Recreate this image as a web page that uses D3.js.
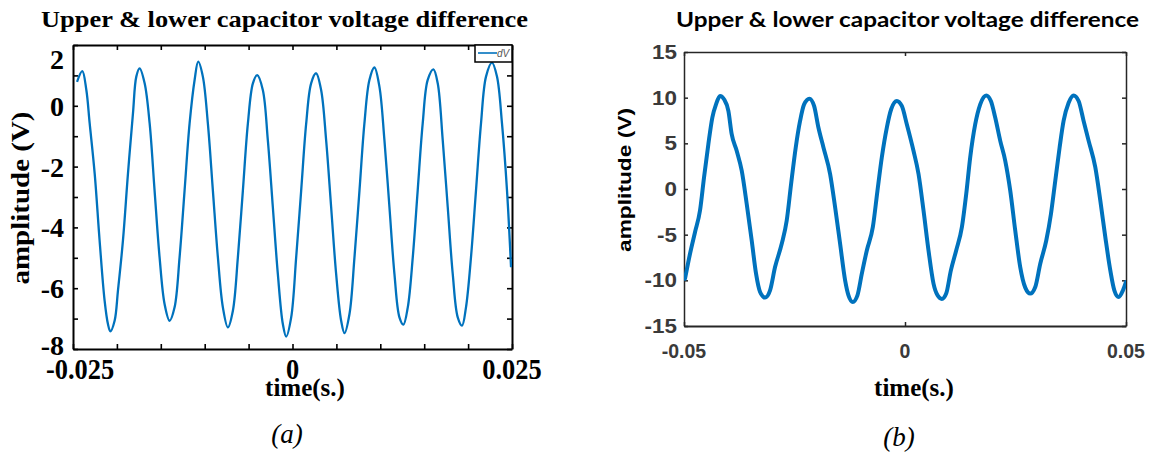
<!DOCTYPE html>
<html>
<head>
<meta charset="utf-8">
<script src="https://cdn.jsdelivr.net/npm/d3@7"></script>
<style>
  html, body { margin: 0; padding: 0; background: #fff; }
  svg { display: block; }
</style>
</head>
<body>
<svg id="chart" width="1153" height="455"></svg>
<script>
// ---- data -------------------------------------------------------------
// Panel (a): voltage difference between upper and lower capacitor (time in ms)
const timeA = [-24.54, -23.94, -23.48, -23.10, -22.53, -21.97, -21.40, -21.02, -20.75, -20.26,
  -19.88, -19.31, -18.74, -18.17, -17.79, -17.41, -16.84, -16.27, -15.71, -15.14,
  -14.57, -14.00, -13.43, -12.86, -12.29, -11.72, -11.15, -10.74, -10.21, -9.64,
  -9.07, -8.50, -7.93, -7.36, -6.79, -6.22, -5.65, -5.08, -4.51, -4.02,
  -3.38, -2.81, -2.24, -1.67, -1.10, -0.72, -0.15, 0.42, 0.99, 1.56,
  2.12, 2.69, 3.26, 3.83, 4.40, 4.97, 5.54, 5.92, 6.49, 7.06,
  7.63, 8.19, 8.76, 9.33, 9.90, 10.47, 11.04, 11.61, 12.18, 12.63,
  13.13, 13.70, 14.26, 14.83, 15.40, 16.05, 16.54, 17.11, 17.68, 18.25,
  18.82, 19.31, 19.76, 20.33, 20.90, 21.47, 22.04, 22.72, 23.29, 23.86,
  24.43, 24.89];
const voltA = [0.79, 1.14, 0.52, -0.58, -2.23, -4.43, -6.41, -7.18, -7.42, -7.07,
  -6.08, -4.43, -2.23, -0.25, 0.96, 1.23, 0.74, -0.58, -2.78, -4.98,
  -6.52, -7.07, -6.63, -4.98, -2.78, -0.58, 0.85, 1.45, 0.96, -0.58,
  -2.78, -4.98, -6.63, -7.29, -6.74, -4.98, -2.78, -0.58, 0.74, 1.01,
  0.52, -1.13, -3.33, -5.53, -7.18, -7.59, -6.96, -4.98, -2.78, -0.58,
  0.74, 1.07, 0.52, -1.13, -3.33, -5.53, -7.07, -7.48, -6.85, -4.98,
  -2.78, -0.58, 0.85, 1.26, 0.63, -1.13, -3.33, -5.53, -6.96, -7.20,
  -6.63, -4.98, -2.78, -0.58, 0.85, 1.20, 0.74, -1.13, -3.33, -5.53,
  -6.96, -7.23, -6.63, -4.98, -2.78, -0.58, 0.96, 1.42, 0.96, -0.58,
  -2.78, -5.31];

// Panel (b): voltage difference between upper and lower capacitor (time in ms)
const timeB = [-49.77, -48.64, -47.51, -46.38, -45.47, -44.49, -43.59, -42.75, -41.85, -40.94,
  -39.96, -39.21, -38.08, -36.94, -35.81, -34.68, -33.70, -32.79, -31.66, -30.53,
  -29.40, -27.89, -26.76, -25.77, -24.72, -23.74, -22.83, -21.62, -20.57, -19.59,
  -18.45, -16.94, -15.81, -14.68, -13.55, -12.79, -11.81, -10.76, -9.77, -8.64,
  -7.28, -6.23, -5.25, -4.11, -3.13, -1.85, -0.72, 0.41, 1.92, 3.06,
  4.19, 5.32, 6.45, 7.36, 8.34, 9.32, 10.38, 11.58, 12.87, 13.85,
  14.75, 15.89, 17.02, 18.38, 19.43, 20.41, 21.55, 22.68, 23.81, 24.94,
  26.07, 27.21, 28.34, 29.47, 30.60, 31.96, 33.02, 34.00, 34.98, 35.88,
  37.02, 38.15, 39.28, 40.41, 41.55, 43.06, 44.19, 45.32, 46.45, 47.36,
  48.34, 49.32, 50.00];
const voltB = [-9.82, -7.09, -4.73, -2.36, 1.27, 4.91, 7.82, 9.27, 10.18, 9.82,
  8.55, 6.00, 4.18, 2.00, -1.64, -5.64, -9.27, -11.27, -11.89, -11.09,
  -8.55, -6.00, -3.45, 0.55, 4.55, 7.45, 9.27, 9.89, 9.09, 6.73,
  4.55, 1.64, -2.00, -6.00, -10.00, -11.64, -12.36, -11.64, -9.27, -6.73,
  -4.18, -0.18, 3.45, 6.73, 8.73, 9.64, 9.09, 7.09, 4.18, 1.64,
  -2.36, -6.73, -10.36, -11.64, -12.04, -11.45, -8.91, -6.73, -4.18, -0.55,
  3.45, 7.09, 9.27, 10.25, 9.64, 7.82, 5.27, 3.09, -0.18, -4.55,
  -8.55, -10.80, -11.45, -10.73, -8.18, -5.64, -2.73, 0.91, 4.55, 7.45,
  9.45, 10.25, 9.64, 7.45, 5.27, 2.36, -1.27, -5.27, -8.91, -11.09,
  -11.82, -11.09, -10.18];

// Tick labels
const xTickLabelsA = [-0.025, 0, 0.025];
const yTickLabelsA = [2, 0, -2, -4, -6, -8];
const xTickLabelsB = [-0.05, 0, 0.05];
const yTickLabelsB = [15, 10, 5, 0, -5, -10, -15];

const titleText = "Upper & lower capacitor voltage difference";
const xTitle = "time(s.)";
const yTitle = "amplitude (V)";
const legendLabel = "dV";
const captions = ["(a)", "(b)"];

// ---- drawing ----------------------------------------------------------
const svg = d3.select("#chart");
const lineBlue = "#0072bd";
const serif = "'Liberation Serif', 'Times New Roman', serif";
const sans = "'Liberation Sans', Arial, sans-serif";

function fmt(v) {
  if (v === 0) return "0";
  return String(v);
}

// squeeze or widen a text horizontally by a factor of its natural width
function scaleWidth(sel, k) {
  sel.each(function () {
    const w = this.getComputedTextLength();
    d3.select(this).attr("textLength", w * k).attr("lengthAdjust", "spacingAndGlyphs");
  });
}

// ===== Panel (a) =====
(function panelA() {
  const L = 73, R = 512, T = 45, B = 349;
  const x = d3.scaleLinear().domain([-0.025, 0.025]).range([L, R]);
  const y = d3.scaleLinear().domain([-8, 2]).range([B, T]);
  const g = svg.append("g");

  g.append("clipPath").attr("id", "clipA")
    .append("rect").attr("x", L).attr("y", T).attr("width", R - L).attr("height", B - T);

  const xMinor = x.ticks(10);
  const yMinor = y.ticks(10);
  const tick = 5;

  const axes = [
    d3.axisBottom(x).tickValues(xMinor), [0, B],
    d3.axisTop(x).tickValues(xMinor), [0, T],
    d3.axisLeft(y).tickValues(yMinor), [L, 0],
    d3.axisRight(y).tickValues(yMinor), [R, 0]
  ];
  for (let i = 0; i < axes.length; i += 2) {
    const ax = axes[i].tickSizeInner(-tick).tickSizeOuter(0).tickFormat("");
    const a = g.append("g").attr("transform", `translate(${axes[i + 1][0]},${axes[i + 1][1]})`).call(ax);
    a.select(".domain").attr("stroke", "#000").attr("stroke-width", 2);
    a.selectAll(".tick line").attr("stroke", "#000").attr("stroke-width", 1.6);
  }

  // data line
  const line = d3.line()
    .x((d, i) => x(timeA[i] / 1000))
    .y((d) => y(d))
    .curve(d3.curveCatmullRom.alpha(0.5));
  g.append("path")
    .attr("clip-path", "url(#clipA)")
    .attr("d", line(voltA))
    .attr("fill", "none")
    .attr("stroke", lineBlue)
    .attr("stroke-width", 2.3)
    .attr("stroke-linejoin", "round");

  // legend
  const lg = g.append("g");
  lg.append("rect").attr("x", 475).attr("y", T).attr("width", R - 475).attr("height", 17)
    .attr("fill", "#fff").attr("stroke", "#000").attr("stroke-width", 1.5);
  lg.append("line").attr("x1", 478).attr("x2", 497).attr("y1", T + 8).attr("y2", T + 8)
    .attr("stroke", lineBlue).attr("stroke-width", 1.6);
  lg.append("text").attr("x", 497).attr("y", T + 12)
    .attr("font-family", sans).attr("font-style", "italic").attr("font-size", 10)
    .attr("fill", "#555").text(legendLabel);

  // tick labels
  g.selectAll(".ylab").data(yTickLabelsA).enter().append("text")
    .attr("x", 64)
    .attr("y", (d, i) => y(d) + (i === 0 ? 24 : (i === yTickLabelsA.length - 1 ? 6 : 10)))
    .attr("text-anchor", "end")
    .attr("font-family", serif).attr("font-weight", "bold").attr("font-size", 28)
    .attr("fill", "#000")
    .text(fmt);

  g.selectAll(".xlab").data(xTickLabelsA).enter().append("text")
    .attr("x", (d, i) => x(d) + (i === 0 ? 7 : 0))
    .attr("y", 379)
    .attr("text-anchor", "middle")
    .attr("font-family", serif).attr("font-weight", "bold").attr("font-size", 30)
    .attr("fill", "#000")
    .text(fmt)
    .call(scaleWidth, 0.88);

  // titles
  g.append("text").attr("x", 284.5).attr("y", 27).attr("text-anchor", "middle")
    .attr("font-family", serif).attr("font-weight", "bold").attr("font-size", 24)
    .attr("textLength", 487).attr("lengthAdjust", "spacingAndGlyphs")
    .text(titleText);

  g.append("text").attr("x", 305).attr("y", 396).attr("text-anchor", "middle")
    .attr("font-family", serif).attr("font-weight", "bold").attr("font-size", 25)
    .text(xTitle);

  g.append("text").attr("transform", "translate(29,198) rotate(-90)").attr("text-anchor", "middle")
    .attr("font-family", serif).attr("font-weight", "bold").attr("font-size", 26)
    .attr("textLength", 173).attr("lengthAdjust", "spacingAndGlyphs")
    .text(yTitle);

  g.append("text").attr("x", 287).attr("y", 443).attr("text-anchor", "middle")
    .attr("font-family", serif).attr("font-style", "italic").attr("font-size", 27)
    .text(captions[0]);
})();

// ===== Panel (b) =====
(function panelB() {
  const L = 684, R = 1126, T = 52, B = 326;
  const x = d3.scaleLinear().domain([-0.05, 0.05]).range([L, R]);
  const y = d3.scaleLinear().domain([-15, 15]).range([B, T]);
  const g = svg.append("g");
  const axisColor = "#262626";

  g.append("clipPath").attr("id", "clipB")
    .append("rect").attr("x", L).attr("y", T).attr("width", R - L).attr("height", B - T);

  const tick = 4;
  const axes = [
    d3.axisBottom(x).tickValues(xTickLabelsB), [0, B],
    d3.axisTop(x).tickValues(xTickLabelsB), [0, T],
    d3.axisLeft(y).tickValues(yTickLabelsB), [L, 0],
    d3.axisRight(y).tickValues(yTickLabelsB), [R, 0]
  ];
  for (let i = 0; i < axes.length; i += 2) {
    const ax = axes[i].tickSizeInner(-tick).tickSizeOuter(0).tickFormat("");
    const a = g.append("g").attr("transform", `translate(${axes[i + 1][0]},${axes[i + 1][1]})`).call(ax);
    a.select(".domain").attr("stroke", axisColor).attr("stroke-width", i === 0 ? 2.2 : 1.5);
    a.selectAll(".tick line").attr("stroke", axisColor).attr("stroke-width", 1.5);
  }

  const line = d3.line()
    .x((d, i) => x(timeB[i] / 1000))
    .y((d) => y(d))
    .curve(d3.curveMonotoneX);
  g.append("path")
    .attr("clip-path", "url(#clipB)")
    .attr("d", line(voltB))
    .attr("fill", "none")
    .attr("stroke", lineBlue)
    .attr("stroke-width", 4)
    .attr("stroke-linejoin", "round")
    .attr("stroke-linecap", "round");

  g.selectAll(".ylab").data(yTickLabelsB).enter().append("text")
    .attr("x", 677)
    .attr("y", (d) => y(d) + 7)
    .attr("text-anchor", "end")
    .attr("font-family", sans).attr("font-weight", "bold").attr("font-size", 19.5)
    .attr("fill", "#3a3a3a")
    .text(fmt)
    .call(scaleWidth, 1.15);

  g.selectAll(".xlab").data(xTickLabelsB).enter().append("text")
    .attr("x", (d) => x(d))
    .attr("y", 358)
    .attr("text-anchor", "middle")
    .attr("font-family", sans).attr("font-weight", "bold").attr("font-size", 19.5)
    .attr("fill", "#3a3a3a")
    .text(fmt);

  g.append("text").attr("x", 907.5).attr("y", 27).attr("text-anchor", "middle")
    .attr("font-family", "Lato, 'Open Sans', sans-serif").attr("font-weight", "bold").attr("font-size", 20)
    .attr("textLength", 463).attr("lengthAdjust", "spacingAndGlyphs")
    .text(titleText);

  g.append("text").attr("transform", "translate(631,180) rotate(-90)").attr("text-anchor", "middle")
    .attr("font-family", sans).attr("font-weight", "bold").attr("font-size", 19)
    .attr("textLength", 144).attr("lengthAdjust", "spacingAndGlyphs")
    .text(yTitle);

  g.append("text").attr("x", 914).attr("y", 396).attr("text-anchor", "middle")
    .attr("font-family", serif).attr("font-weight", "bold").attr("font-size", 25)
    .text(xTitle);

  g.append("text").attr("x", 899).attr("y", 446).attr("text-anchor", "middle")
    .attr("font-family", serif).attr("font-style", "italic").attr("font-size", 27)
    .text(captions[1]);
})();
</script>
</body>
</html>
